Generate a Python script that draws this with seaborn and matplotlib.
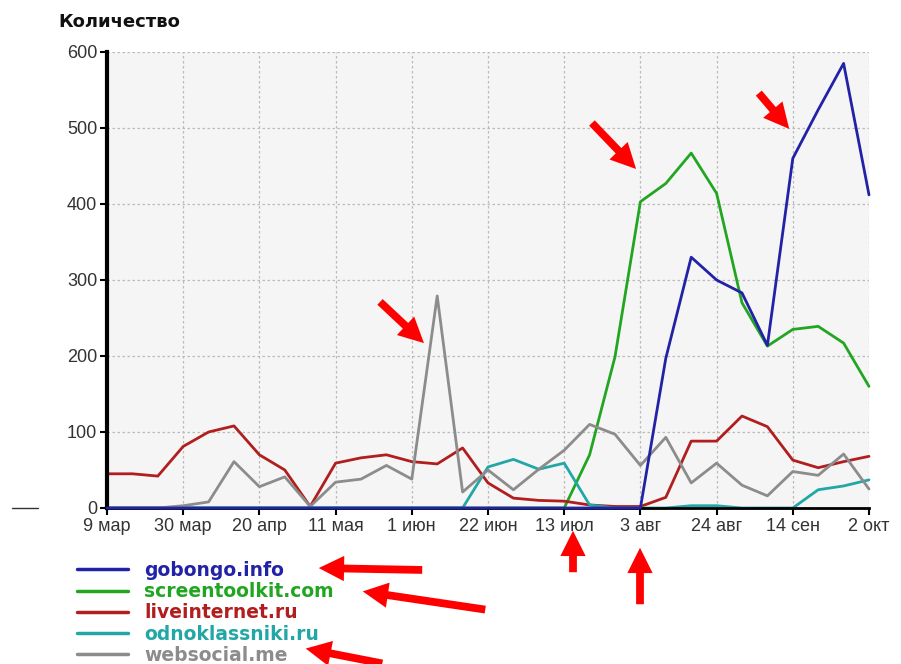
import matplotlib
matplotlib.use('Agg')
import matplotlib.pyplot as plt
import seaborn as sns
import pandas as pd
from matplotlib.lines import Line2D

# weekly points, 9 мар .. 2 окт
tick_labels = ['9 мар', '30 мар', '20 апр', '11 мая', '1 июн', '22 июн',
               '13 июл', '3 авг', '24 авг', '14 сен', '2 окт']
sites = ['gobongo.info', 'screentoolkit.com', 'liveinternet.ru',
         'odnoklassniki.ru', 'websocial.me']

gobongo = [0]*22 + [197, 330, 300, 283, 214, 460, 524, 585, 412]
screentoolkit = [0]*19 + [70, 199, 403, 427, 467, 414, 270, 213, 235, 239, 217, 160]
liveinternet = [45, 45, 42, 81, 100, 108, 70, 50, 2, 59, 66, 70, 61, 58, 79, 33,
                13, 10, 9, 4, 2, 2, 14, 88, 88, 121, 107, 63, 53, 61, 68]
odnoklassniki = [0]*15 + [54, 64, 51, 59, 4, 0, 0, 0, 3, 3, 0, 0, 0, 24, 29, 37]
websocial = [0, 0, 0, 3, 8, 61, 28, 41, 2, 34, 38, 56, 38, 279, 21, 50, 24, 51,
             76, 110, 97, 56, 93, 33, 59, 30, 16, 48, 43, 71, 25]

colors = ['#2222a6', '#22a622', '#b01e1e', '#22a6a6', '#8c8c8c']
palette = dict(zip(sites, colors))

series = [gobongo, screentoolkit, liveinternet, odnoklassniki, websocial]
df = pd.concat([pd.DataFrame({'week': range(len(v)), 'value': v, 'site': s})
                for s, v in zip(sites, series)])

sns.set_style('white')
plt.rcParams['font.family'] = ['Liberation Sans', 'DejaVu Sans']

fig = plt.figure(figsize=(9.01, 6.64), dpi=100)
ax = fig.add_axes([107/901, 1 - 508/664, (869-107)/901, (508-52)/664])
ax.set_facecolor('#f5f5f5')

sns.lineplot(data=df, x='week', y='value', hue='site', hue_order=sites,
             palette=palette, linewidth=2, ax=ax, legend=False, clip_on=False)
ax.lines[0].set_zorder(5)

ax.set_xlim(0, 30)
ax.set_ylim(0, 600)
ax.set_xticks(range(0, 31, 3), labels=tick_labels, fontsize=13)
ax.set_yticks(range(0, 601, 100), labels=[str(v) for v in range(0, 601, 100)], fontsize=13)
ax.set_xlabel('')
ax.set_ylabel('')
ax.tick_params(axis='both', direction='out', length=5, width=1.5, color='black',
               labelcolor='#333333', bottom=True, left=True, pad=2)
ax.grid(True, color='#bbbbbb', linestyle=(0, (2, 2)), linewidth=0.9)

for side in ['top', 'right']:
    ax.spines[side].set_visible(False)
ax.spines['left'].set_linewidth(3)
ax.spines['bottom'].set_linewidth(2)
ax.spines['left'].set_color('black')
ax.spines['bottom'].set_color('black')

fig.text(58/901, 1 - 22/664, 'Количество', fontsize=13, fontweight='bold',
         family='DejaVu Sans', color='#111111', ha='left', va='center')

# legend below the axes
handles = [Line2D([0], [0], color=c, linewidth=2.5) for c in colors]
leg = ax.legend(handles, sites, loc='upper left', bbox_to_anchor=(60/901, 1 - 544/664),
                bbox_transform=fig.transFigure, frameon=False,
                prop={'family': 'DejaVu Sans', 'weight': 'bold', 'size': 13.5},
                handlelength=2.7, handletextpad=0.9, labelspacing=0.12,
                labelcolor='linecolor')

# red arrows
arrows = [((378, 300), (426, 345)),
          ((590, 121), (638, 171)),
          ((757, 91), (791, 131)),
          ((573, 575), (573, 528)),
          ((640, 607), (640, 545)),
          ((425, 570), (316, 568)),
          ((488, 610), (360, 591)),
          ((385, 664), (303, 648))]
for (x0, y0), (x1, y1) in arrows:
    fig.add_artist(matplotlib.patches.FancyArrowPatch(
        (x0/901, 1 - y0/664), (x1/901, 1 - y1/664), transform=fig.transFigure,
        arrowstyle='simple,head_length=1.3,head_width=1.3,tail_width=0.4',
        mutation_scale=14, color='red', linewidth=0))

fig.add_artist(Line2D([12/901, 38/901], [1 - 508/664, 1 - 508/664],
                      transform=fig.transFigure, color='#333333', linewidth=1))

fig.savefig('out.png', dpi=100)
